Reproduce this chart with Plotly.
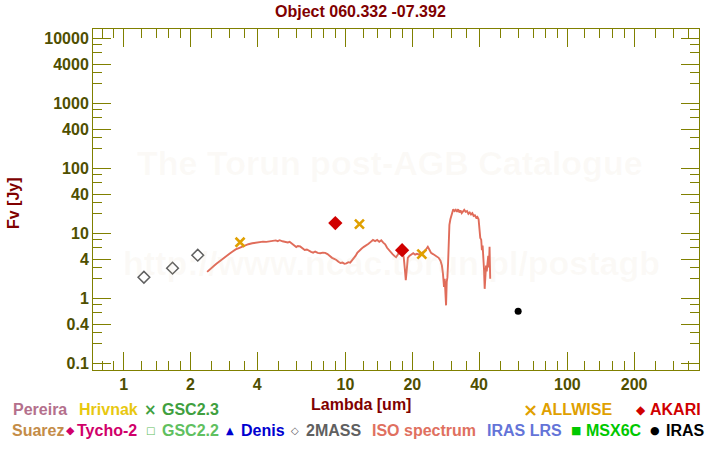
import plotly.graph_objects as go

# ---------------- data ----------------
title_text = "Object 060.332 -07.392"
x_title = "Lambda [um]"
y_title = "Fv [Jy]"

x_tick_vals = [1, 2, 4, 10, 20, 40, 100, 200]
x_tick_text = ["1", "2", "4", "10", "20", "40", "100", "200"]
x_minor_vals = [0.8, 0.9, 1.2, 1.4, 1.6, 1.8, 2.5, 3, 3.5, 5, 6, 7, 8, 9,
                12, 14, 16, 18, 25, 30, 35, 50, 60, 70, 80, 90,
                120, 140, 160, 180, 250, 300, 350]
y_tick_vals = [0.1, 0.4, 1, 4, 10, 40, 100, 400, 1000, 4000, 10000]
y_tick_text = ["0.1", "0.4", "1", "4", "10", "40", "100", "400", "1000", "4000", "10000"]
y_minor_vals = [0.08, 0.2, 0.3, 0.6, 0.8, 2, 3, 6, 8, 20, 30, 60, 80,
                200, 300, 600, 800, 2000, 3000, 6000, 8000]

twomass_wl = [1.235, 1.662, 2.159]
twomass_fv = [2.11, 2.91, 4.61]

allwise_wl = [3.35, 11.56, 22.09]
allwise_fv = [7.3, 13.9, 4.8]

akari_wl = [9.0, 18.0]
akari_fv = [14.4, 5.5]

iras_wl = [60.0]
iras_fv = [0.63]

iso_wl = [2.38, 2.42, 2.48, 2.55, 2.62, 2.70, 2.80, 2.90, 3.00, 3.10, 3.20, 3.35,
          3.50, 3.65, 3.80, 3.95, 4.10, 4.25, 4.40, 4.55, 4.70, 4.85, 4.95, 5.05,
          5.20, 5.35, 5.50, 5.60, 5.75, 5.90, 6.00, 6.10, 6.25, 6.40, 6.55, 6.70,
          6.85, 7.00, 7.15, 7.30, 7.50, 7.70, 7.90, 8.10, 8.30, 8.50, 8.70, 8.90,
          9.10, 9.30, 9.50, 9.70, 9.90, 10.1, 10.3, 10.5, 10.7, 10.9, 11.1, 11.3,
          11.5, 11.8, 12.1, 12.4, 12.7, 13.0, 13.3, 13.6, 13.9, 14.2, 14.5, 14.8,
          15.1, 15.4, 15.7, 16.0, 16.3, 16.6, 16.9, 17.2, 17.5, 17.8, 18.0, 18.3,
          18.5, 18.7, 18.9, 19.1, 19.4, 19.8, 20.2, 20.6, 21.0, 21.5, 22.0, 22.5,
          23.0, 23.5, 23.9, 24.3, 24.8, 25.3, 25.8, 26.3, 26.8, 27.2, 27.5, 27.8,
          28.0, 28.2, 28.4, 28.6, 28.8, 29.0, 29.2, 29.4, 29.7, 30.0, 30.3, 30.6,
          31.0, 31.4, 31.8, 32.2, 32.6, 33.0, 33.4, 33.8, 34.3, 34.8, 35.3, 35.8,
          36.3, 36.8, 37.3, 37.8, 38.3, 38.8, 39.3, 39.8, 40.2, 40.5, 40.9, 41.2,
          41.5, 41.8, 42.1, 42.4, 42.7, 43.0, 43.3, 43.6, 44.0, 44.3, 44.6, 44.9]
iso_fv = [2.55, 2.70, 2.90, 3.15, 3.40, 3.70, 4.05, 4.45, 4.85, 5.25, 5.65, 6.05,
          6.45, 6.80, 7.05, 7.25, 7.35, 7.45, 7.40, 7.55, 7.50, 7.80, 7.60, 7.85,
          7.55, 7.45, 7.25, 7.40, 6.90, 6.60, 6.15, 6.40, 6.30, 5.90, 5.55, 5.65,
          5.35, 5.20, 5.05, 5.25, 5.00, 4.95, 5.05, 5.00, 4.80, 4.45, 4.20, 4.05,
          3.90, 3.65, 3.50, 3.55, 3.40, 3.45, 3.60, 3.55, 3.85, 4.00, 4.50, 5.00,
          5.40, 5.80, 6.20, 6.50, 6.90, 7.40, 7.90, 7.60, 7.90, 7.40, 7.80, 7.20,
          6.80, 6.00, 5.50, 5.10, 4.80, 4.50, 4.30, 4.70, 5.20, 6.20, 5.20, 4.30,
          2.90, 1.90, 2.80, 4.20, 4.50, 4.80, 4.95, 4.70, 4.85, 4.70, 4.90, 5.20,
          5.60, 6.20, 5.60, 5.00, 4.80, 4.60, 4.40, 4.20, 3.80, 3.20, 2.40, 1.50,
          2.00, 1.20, 0.78, 1.80, 2.10, 3.50, 9.00, 13.5, 16.5, 19.0, 22.5, 23.5,
          22.0, 23.0, 21.5, 23.5, 21.0, 22.5, 20.5, 22.0, 23.0, 21.5, 22.0, 20.0,
          21.0, 19.5, 20.5, 18.5, 19.0, 17.5, 18.0, 16.5, 12.0, 8.5, 8.0, 5.5,
          6.5, 4.5, 2.8, 1.40, 2.5, 3.2, 2.6, 3.5, 4.5, 3.0, 6.2, 2.0]

# ---------------- layout helpers ----------------
W, H = 720, 450
L, R, T, B = 93, 699, 29, 370
PW, PH = R - L, B - T


def fx(px):
    return (px - L) / PW


def fy(py):
    return (B - py) / PH


FONT = "Liberation Sans, Arial, Helvetica, sans-serif"
OLIVE = "#808000"
TICKTXT = "#4f4f00"
MAROON = "#800000"

fig = go.Figure()

fig.add_trace(go.Scatter(x=iso_wl, y=iso_fv, mode="lines",
                         line=dict(color="#e06c5a", width=1.9), hoverinfo="skip"))
fig.add_trace(go.Scatter(x=twomass_wl, y=twomass_fv, mode="markers",
                         marker=dict(symbol="diamond-open", size=9, color="#606060",
                                     line=dict(color="#606060", width=1.5))))
fig.add_trace(go.Scatter(x=allwise_wl, y=allwise_fv, mode="markers",
                         marker=dict(symbol="x-thin", size=9, color="#e0a000",
                                     line=dict(color="#e0a000", width=2.6))))
fig.add_trace(go.Scatter(x=akari_wl, y=akari_fv, mode="markers",
                         marker=dict(symbol="diamond", size=11, color="#d00000")))
fig.add_trace(go.Scatter(x=iras_wl, y=iras_fv, mode="markers",
                         marker=dict(symbol="circle", size=7, color="black")))

axis_common = dict(
    type="log", showgrid=False, zeroline=False, showline=True, linecolor=OLIVE,
    linewidth=1, mirror="allticks", ticks="inside", ticklen=18, tickwidth=1,
    tickcolor=OLIVE, tickmode="array",
    tickfont=dict(family=FONT, size=16, color=TICKTXT, weight="bold"),
)

fig.update_xaxes(**axis_common, range=[-0.1378, 2.5932],
                 tickvals=x_tick_vals, ticktext=x_tick_text,
                 minor=dict(tickmode="array", tickvals=x_minor_vals, ticks="inside",
                            ticklen=9, tickwidth=1, tickcolor=OLIVE, showgrid=False))
fig.update_yaxes(**axis_common, range=[-1.103, 4.145],
                 tickvals=y_tick_vals, ticktext=y_tick_text,
                 minor=dict(tickmode="array", tickvals=y_minor_vals, ticks="inside",
                            ticklen=9, tickwidth=1, tickcolor=OLIVE, showgrid=False))

annotations = []


def add_text(text, px, py, color, size=16, xanchor="left", textangle=0, family=FONT):
    annotations.append(dict(
        text=text, x=fx(px), y=fy(py), xref="paper", yref="paper",
        xanchor=xanchor, yanchor="middle", showarrow=False, textangle=textangle,
        font=dict(family=family, size=size, color=color, weight="bold")))


SYM = "DejaVu Sans, sans-serif"

# watermark
wm = "rgba(215,200,160,0.09)"
add_text("The Torun post-AGB Catalogue", 390, 163, wm, size=34, xanchor="center")
add_text("http://www.ncac.torun.pl/postagb", 391, 263, wm, size=34, xanchor="center")

# title and axis titles
add_text(title_text, 360, 11, MAROON, size=16, xanchor="center")
add_text(x_title, 360.5, 405, MAROON, size=16, xanchor="center")
add_text(y_title, 13, 203, MAROON, size=16, xanchor="center", textangle=-90)

# legend row 1
r1, r2 = 410, 430
add_text("Pereira", 11, r1, "#b4708c")
add_text("Hrivnak", 77, r1, "#e8c810")
add_text("×", 150.5, r1, "#40a040", size=15, xanchor="center", family=SYM)
add_text("GSC2.3", 160, r1, "#40a040")
add_text("×", 530, r1, "#e0a000", size=18, xanchor="center", family=SYM)
add_text("ALLWISE", 539, r1, "#e0a000")
add_text("◆", 641, r1, "#d00000", size=12, xanchor="center", family=SYM)
add_text("AKARI", 648, r1, "#d00000")
# legend row 2
add_text("Suarez", 10, r2, "#c48c48")
add_text("◆", 70.5, r2, "#d0006a", size=11, xanchor="center", family=SYM)
add_text("Tycho-2", 75, r2, "#d0006a")
add_text("□", 150.5, r2, "#60c060", size=10, xanchor="center", family=SYM)
add_text("GSC2.2", 160, r2, "#60c060")
add_text("▲", 230, r2, "#0000d0", size=10, xanchor="center", family=SYM)
add_text("Denis", 239, r2, "#0000d0")
add_text("◇", 294.5, r2, "#606060", size=10, xanchor="center", family=SYM)
add_text("2MASS", 304, r2, "#606060")
add_text("ISO spectrum", 370, r2, "#e07060")
add_text("IRAS LRS", 485, r2, "#6474d8")
add_text("■", 575.5, r2, "#00c800", size=11, xanchor="center", family=SYM)
add_text("MSX6C", 584, r2, "#00c800")
add_text("●", 655, r2, "black", size=11, xanchor="center", family=SYM)
add_text("IRAS", 664, r2, "black")

fig.update_layout(
    width=W, height=H, showlegend=False,
    paper_bgcolor="white", plot_bgcolor="white",
    margin=dict(l=L, r=W - R, t=T, b=H - B, pad=0),
    annotations=annotations,
)

# remove the browser's default 8px body margin so the figure starts at the window corner
fig.write_html("out.html",
               config={"displayModeBar": False},
               post_script="document.body.style.margin='0px';document.body.style.overflow='hidden';")
